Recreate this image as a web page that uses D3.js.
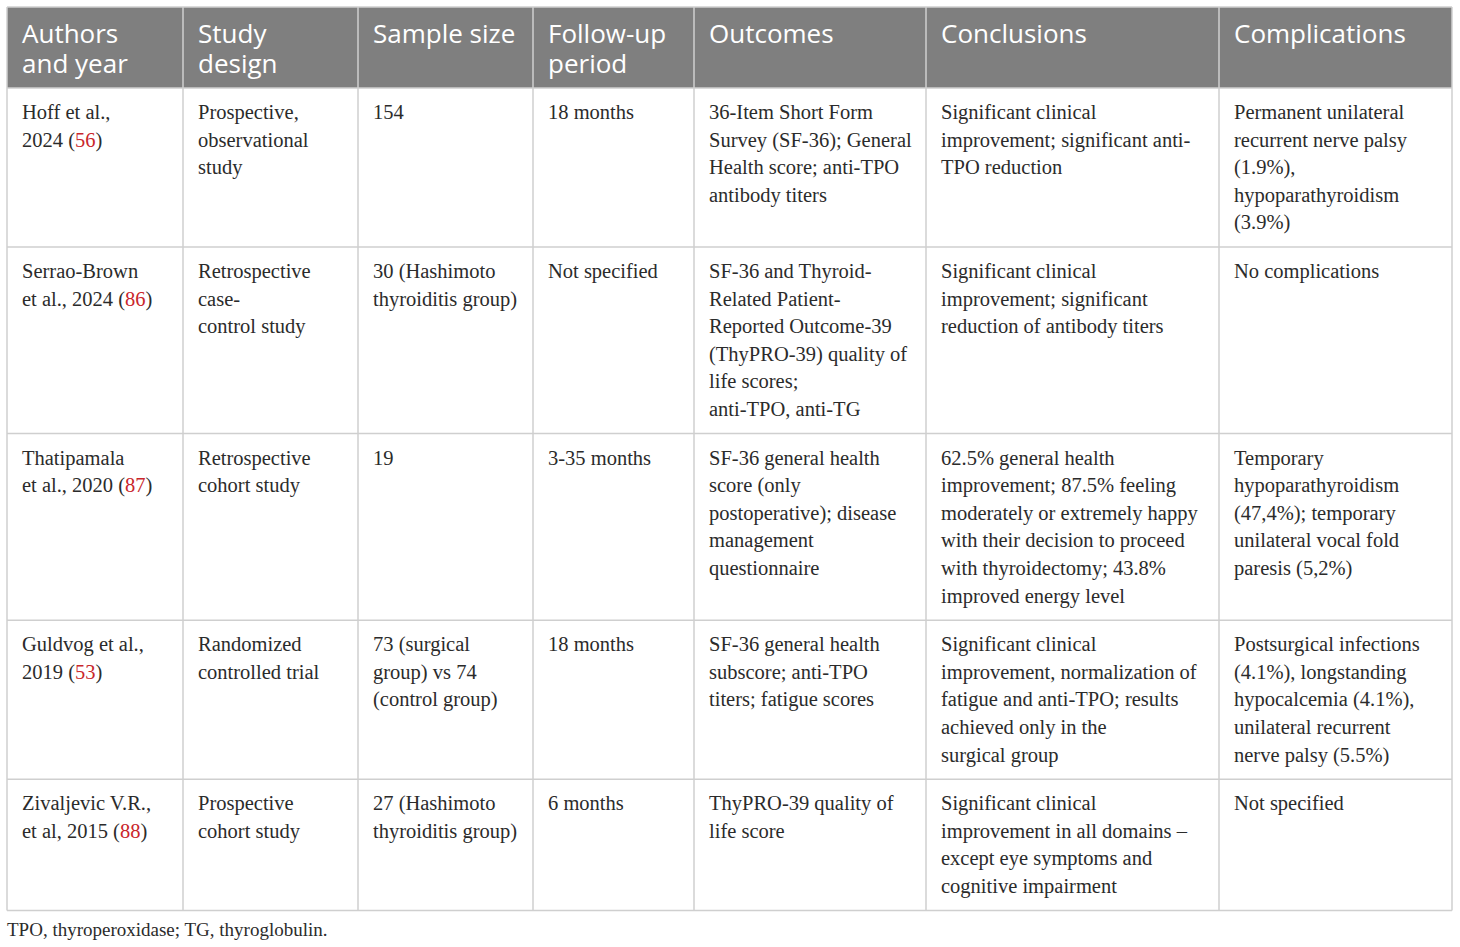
<!DOCTYPE html>
<html>
<head>
<meta charset="utf-8">
<script src="https://cdn.jsdelivr.net/npm/d3@7"></script>
<style>
  html, body { margin: 0; padding: 0; background: #fff; }
  svg { display: block; }
</style>
</head>
<body>
<svg id="table" width="1460" height="947"></svg>
<script>
// header labels (one entry per line)
const headers = [
    ["Authors", "and year"],
    ["Study", "design"],
    ["Sample size"],
    ["Follow-up", "period"],
    ["Outcomes"],
    ["Conclusions"],
    ["Complications"]
];

const authors = [
    ["Hoff et al.,", "2024 (56)"],
    ["Serrao-Brown", "et al., 2024 (86)"],
    ["Thatipamala", "et al., 2020 (87)"],
    ["Guldvog et al.,", "2019 (53)"],
    ["Zivaljevic V.R.,", "et al, 2015 (88)"]
];

const designs = [
    ["Prospective,", "observational", "study"],
    ["Retrospective", "case-", "control study"],
    ["Retrospective", "cohort study"],
    ["Randomized", "controlled trial"],
    ["Prospective", "cohort study"]
];

const sampleSizes = [
    ["154"],
    ["30 (Hashimoto", "thyroiditis group)"],
    ["19"],
    ["73 (surgical", "group) vs 74", "(control group)"],
    ["27 (Hashimoto", "thyroiditis group)"]
];

const followUps = [
    ["18 months"],
    ["Not specified"],
    ["3-35 months"],
    ["18 months"],
    ["6 months"]
];

const outcomes = [
    ["36-Item Short Form", "Survey (SF-36); General", "Health score; anti-TPO", "antibody titers"],
    ["SF-36 and Thyroid-", "Related Patient-", "Reported Outcome-39", "(ThyPRO-39) quality of", "life scores;", "anti-TPO, anti-TG"],
    ["SF-36 general health", "score (only", "postoperative); disease", "management", "questionnaire"],
    ["SF-36 general health", "subscore; anti-TPO", "titers; fatigue scores"],
    ["ThyPRO-39 quality of", "life score"]
];

const conclusions = [
    ["Significant clinical", "improvement; significant anti-", "TPO reduction"],
    ["Significant clinical", "improvement; significant", "reduction of antibody titers"],
    ["62.5% general health", "improvement; 87.5% feeling", "moderately or extremely happy", "with their decision to proceed", "with thyroidectomy; 43.8%", "improved energy level"],
    ["Significant clinical", "improvement, normalization of", "fatigue and anti-TPO; results", "achieved only in the", "surgical group"],
    ["Significant clinical", "improvement in all domains \u2013", "except eye symptoms and", "cognitive impairment"]
];

const complications = [
    ["Permanent unilateral", "recurrent nerve palsy", "(1.9%),", "hypoparathyroidism", "(3.9%)"],
    ["No complications"],
    ["Temporary", "hypoparathyroidism", "(47,4%); temporary", "unilateral vocal fold", "paresis (5,2%)"],
    ["Postsurgical infections", "(4.1%), longstanding", "hypocalcemia (4.1%),", "unilateral recurrent", "nerve palsy (5.5%)"],
    ["Not specified"]
];

const footnote = "TPO, thyroperoxidase; TG, thyroglobulin.";

// layout
const tableLeft = 7, tableTop = 7, headerH = 81;
const colWidths = [176, 175, 175, 161, 232, 293, 233];
const lineH = 27.6, rowPad = 21, padX = 15;

const columns = [authors, designs, sampleSizes, followUps, outcomes, conclusions, complications];
const rows = authors.map((_, i) => columns.map(col => col[i]));

const colX = [tableLeft, ...d3.cumsum(colWidths).map(w => tableLeft + w)];
const rowHeights = rows.map(r => d3.max(r, c => c.length) * lineH + rowPad);
const rowY = [tableTop + headerH, ...d3.cumsum(rowHeights).map(h => tableTop + headerH + h)];
const tableW = d3.sum(colWidths);
const tableBottom = rowY[rowY.length - 1];

const svg = d3.select("#table");

// header background
svg.append("rect")
    .attr("x", tableLeft).attr("y", tableTop)
    .attr("width", tableW).attr("height", headerH)
    .attr("fill", "#7f7f7f");

// header text
const head = svg.append("g")
    .attr("font-family", "'Open Sans', sans-serif")
    .attr("font-size", 26)
    .attr("fill", "#fff");

headers.forEach((lines, j) => {
    head.append("text")
        .attr("x", colX[j] + padX)
        .attr("y", tableTop + 36)
        .selectAll("tspan")
        .data(lines)
        .join("tspan")
        .attr("x", colX[j] + padX)
        .attr("dy", (_, k) => k === 0 ? 0 : 29.5)
        .text(d => d);
});

// body text
const body = svg.append("g")
    .attr("font-family", "'Liberation Serif', 'Times New Roman', serif")
    .attr("font-size", 20.5)
    .attr("fill", "#2b2b2b");

rows.forEach((row, i) => {
    row.forEach((lines, j) => {
        const t = body.append("text")
            .attr("x", colX[j] + padX)
            .attr("y", rowY[i] + 31);
        lines.forEach((line, k) => {
            // split out reference numbers like (56) so the number can be red
            const parts = line.split(/(\(\d+\))/).filter(p => p !== "");
            parts.forEach((p, n) => {
                const m = p.match(/^\((\d+)\)$/);
                const addSpan = (txt, color) => {
                    const s = t.append("tspan").text(txt);
                    if (color) s.attr("fill", color);
                    return s;
                };
                let s;
                if (m) {
                    s = addSpan("(");
                    addSpan(m[1], "#c9262c");
                    addSpan(")");
                } else {
                    s = addSpan(p);
                }
                if (n === 0) s.attr("x", colX[j] + padX).attr("dy", k === 0 ? 0 : lineH);
            });
        });
    });
});

// grid lines
const grid = svg.append("g")
    .attr("stroke", "#cfcfcf")
    .attr("stroke-width", 1.5)
    .attr("fill", "none");

grid.selectAll("line.h")
    .data(rowY)
    .join("line")
    .attr("class", "h")
    .attr("x1", tableLeft).attr("x2", tableLeft + tableW)
    .attr("y1", d => d).attr("y2", d => d);

grid.append("line")
    .attr("x1", tableLeft).attr("x2", tableLeft + tableW)
    .attr("y1", tableTop).attr("y2", tableTop);

grid.selectAll("line.v")
    .data(colX)
    .join("line")
    .attr("class", "v")
    .attr("x1", d => d).attr("x2", d => d)
    .attr("y1", tableTop).attr("y2", tableBottom);

// footnote
svg.append("text")
    .attr("x", tableLeft)
    .attr("y", tableBottom + 25)
    .attr("font-family", "'Liberation Serif', 'Times New Roman', serif")
    .attr("font-size", 19)
    .attr("fill", "#2b2b2b")
    .text(footnote);
</script>
</body>
</html>
